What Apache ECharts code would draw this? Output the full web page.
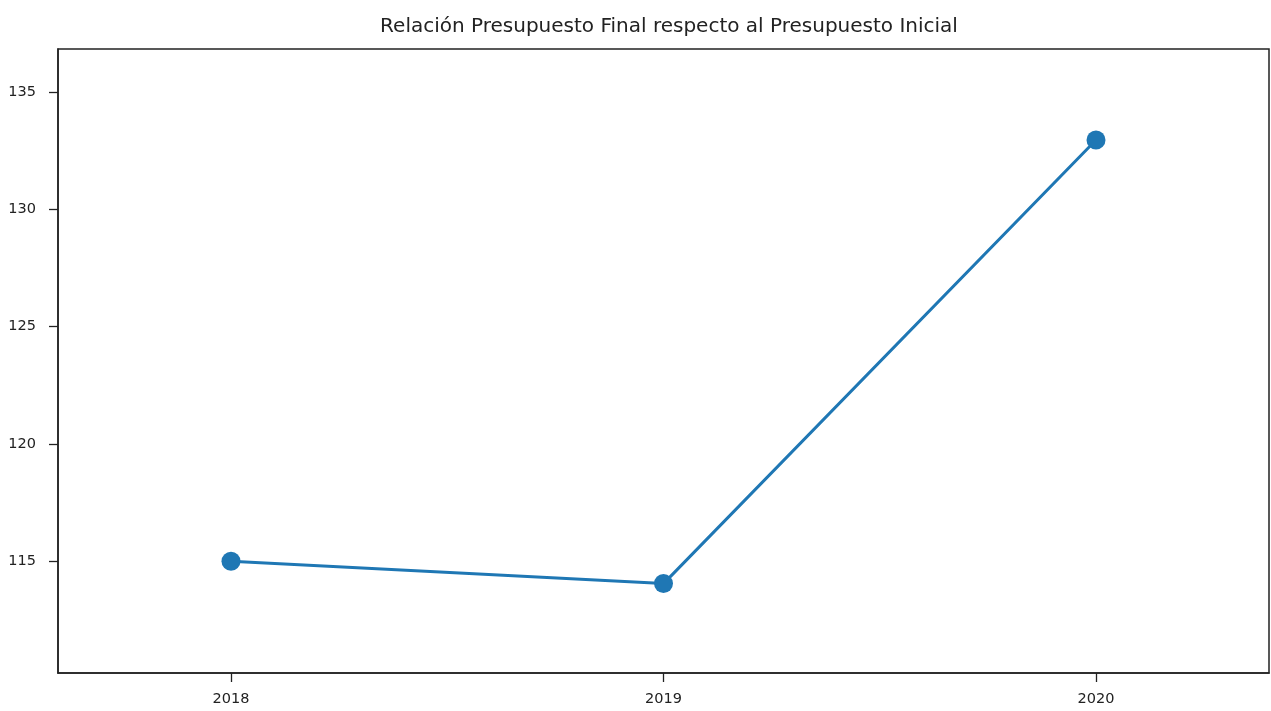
<!DOCTYPE html>
<html>
<head>
<meta charset="utf-8">
<script src="https://cdn.jsdelivr.net/npm/echarts@6/dist/echarts.min.js"></script>
<style>
html,body{margin:0;padding:0;background:#fff;}
#c{width:1271px;height:711px;}
</style>
</head>
<body>
<div id="c"></div>
<script>
const years = [2018, 2019, 2020];
const values = [115.0, 114.05, 132.95];
const yTicks = [115, 120, 125, 130, 135];
const title = 'Relación Presupuesto Final respecto al Presupuesto Inicial';

const chart = echarts.init(document.getElementById('c'));
const font = 'DejaVu Sans';
chart.setOption({
  animation: false,
  backgroundColor: '#fff',
  title: {
    text: title,
    left: 664, top: 12, textAlign: 'center',
    textStyle: {fontFamily: font, fontSize: 20, fontWeight: 'normal', color: '#222'}
  },
  grid: {left: 58, right: 2, top: 49, bottom: 38, show: true, borderColor: '#222', borderWidth: 1.5},
  xAxis: {
    type: 'value', min: 2017.6, max: 2020.4,
    splitLine: {show: false},
    axisLine: {show: true, onZero: false, lineStyle: {color: '#222', width: 1.5}},
    axisTick: {show: true, length: 9, customValues: years, lineStyle: {color: '#222', width: 1.3}},
    axisLabel: {customValues: years, fontFamily: font, fontSize: 14.5, color: '#222', margin: 19, formatter: v => String(v)}
  },
  yAxis: {
    type: 'value', min: 110.24, max: 136.83,
    splitLine: {show: false},
    axisLine: {show: true, lineStyle: {color: '#222', width: 1.5}},
    axisTick: {show: true, length: 9, customValues: yTicks, lineStyle: {color: '#222', width: 1.3}},
    axisLabel: {customValues: yTicks, fontFamily: font, fontSize: 14.5, color: '#222', margin: 22, formatter: v => String(v)}
  },
  series: [{
    type: 'line',
    data: years.map((y, i) => [y, values[i]]),
    symbol: 'circle', symbolSize: 19,
    lineStyle: {color: '#1f77b4', width: 3},
    itemStyle: {color: '#1f77b4'}
  }]
});
</script>
</body>
</html>
